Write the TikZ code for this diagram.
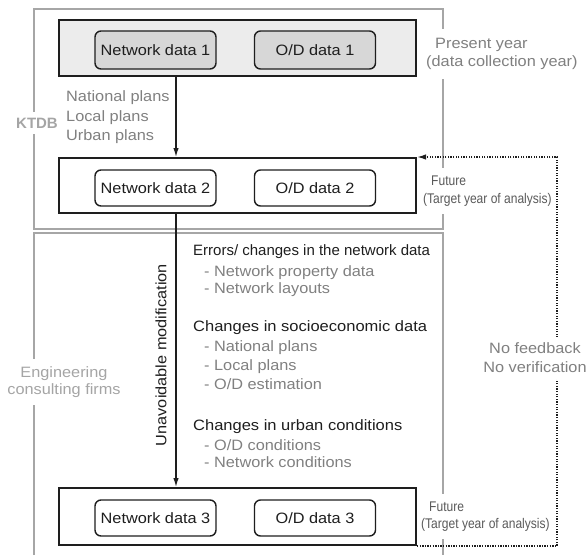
\documentclass[tikz,border=0pt]{standalone}
\usepackage{fontspec}
\setmainfont{Liberation Sans}
\newfontfamily\spaced[FakeStretch=1.087]{Liberation Sans}
\newfontfamily\headfont[FakeStretch=1.1]{Liberation Sans}
\newfontfamily\condensed[FakeStretch=0.86]{Liberation Sans}
\usetikzlibrary{arrows.meta}

\definecolor{framegray}{HTML}{A6A6A6}
\definecolor{panelgray}{HTML}{ECECEC}
\definecolor{datagray}{HTML}{D7D7D7}
\definecolor{notegray}{HTML}{808080}
\definecolor{lightnote}{HTML}{A5A5A5}
\definecolor{futuregray}{HTML}{5A5A5A}
\definecolor{inkdark}{HTML}{1E1E1E}

\tikzset{
  frame/.style={draw=framegray, line width=1.5pt},
  stagebox/.style={draw=inkdark, line width=2pt, minimum width=357pt, inner sep=0pt},
  databox/.style={draw=inkdark, line width=1.4pt, rounded corners=6pt,
    minimum width=121pt, minimum height=36pt, inner sep=0pt,
    font=\spaced\fontsize{15}{17}\selectfont, text=inkdark},
  flow/.style={draw=inkdark, line width=1.3pt, -{Latex[length=9pt,width=5.5pt]}},
  feedback/.style={draw=inkdark, line width=1.5pt, dash pattern=on 1.3pt off 1.3pt,
    -{Latex[length=9pt,width=5.5pt]}},
  grayline/.style={anchor=west, inner sep=0pt, text=notegray,
    font=\spaced\fontsize{15}{17}\selectfont},
  headline/.style={anchor=west, inner sep=0pt, text=inkdark,
    font=\fontsize{15}{18}\selectfont},
  sidelabel/.style={fill=white, inner xsep=2pt, inner ysep=8pt, align=left},
}

\begin{document}
\begin{tikzpicture}[x=1pt, y=-1pt]
\useasboundingbox (0,0) rectangle (587,555);

% organisation frames
\draw[frame] (34,9) rectangle (443,229);
\draw[frame] (34,555) -- (34,233) -- (443,233) -- (443,555);

% stage panels
\node[stagebox, fill=panelgray, minimum height=56pt] (stage1) at (237.5,48) {};
\node[stagebox, fill=white, minimum height=55pt] (stage2) at (237.5,185.5) {};
\node[stagebox, fill=white, minimum height=57pt] (stage3) at (237.5,516.5) {};

% data sets
\node[databox, fill=datagray, minimum height=38pt] (net1) at (155.5,50) {Network data 1};
\node[databox, fill=datagray, minimum height=38pt] (od1) at (315,50) {O/D data 1};
\node[databox, fill=white] (net2) at (155.5,188) {Network data 2};
\node[databox, fill=white] (od2) at (315,188) {O/D data 2};
\node[databox, fill=white] (net3) at (155.5,518) {Network data 3};
\node[databox, fill=white] (od3) at (315,518) {O/D data 3};

% main flow
\coordinate (axis) at (176,0);
\draw[flow] (axis |- stage1.south) -- (axis |- stage2.north);
\draw[flow] (axis |- stage2.south) -- (axis |- stage3.north);

% missing feedback loop
\coordinate (loopx) at (557,0);
\draw[feedback] (stage3.south east) -- (loopx |- stage3.south) -- (loopx |- stage2.north) -- (stage2.north east);

% plan inputs between the first two stages
\node[grayline, align=left, font=\spaced\fontsize{15}{19.5}\selectfont] (plans) at (66,117.5)
  {National plans\\Local plans\\Urban plans};

% organisation labels
\node[fill=white, inner xsep=2pt, inner ysep=6pt, text=lightnote,
  font=\bfseries\fontsize{15}{18}\selectfont] (ktdb) at (37,123) {KTDB};
\node[fill=white, inner xsep=3pt, inner ysep=8pt, align=center, text=lightnote,
  font=\spaced\fontsize{15}{16.5}\selectfont] (firms) at (64,382)
  {Engineering\\consulting firms};

% time labels
\node[sidelabel, anchor=west, text=notegray, inner ysep=9pt,
  font=\spaced\fontsize{15}{18}\selectfont] (present) at (424,54)
  {\hspace{9pt}Present year\\(data collection year)};
\node[sidelabel, anchor=west, text=futuregray,
  font=\condensed\fontsize{14}{18}\selectfont] (future2) at (421,191)
  {\hspace{8pt}Future\\(Target year of analysis)};
\node[sidelabel, anchor=west, text=futuregray,
  font=\condensed\fontsize{14}{17}\selectfont] (future3) at (419,516.5)
  {\hspace{8pt}Future\\(Target year of analysis)};

% loop label
\node[fill=white, inner xsep=1pt, inner ysep=6pt, align=center, text=notegray,
  font=\spaced\fontsize{15}{19}\selectfont] (nofb) at (535,358)
  {No feedback\\No verification};

% modification label
\node[rotate=90, inner sep=0pt, text=inkdark,
  font=\spaced\fontsize{15}{17}\selectfont] (modif) at (161,355)
  {Unavoidable modification};

% reasons for modification
\node[headline] (err) at (193,252) {Errors/ changes in the network data};
\node[grayline] (err1) at (204,273) {- Network property data};
\node[grayline] (err2) at (204,290) {- Network layouts};
\node[headline, font=\headfont\fontsize{15}{18}\selectfont] (soc) at (193,328) {Changes in socioeconomic data};
\node[grayline] (soc1) at (204,348) {- National plans};
\node[grayline] (soc2) at (204,367) {- Local plans};
\node[grayline] (soc3) at (204,384) {- O/D estimation};
\node[headline, font=\headfont\fontsize{15}{18}\selectfont] (urb) at (193,427) {Changes in urban conditions};
\node[grayline] (urb1) at (204,445) {- O/D conditions};
\node[grayline] (urb2) at (204,462) {- Network conditions};

\end{tikzpicture}
\end{document}
